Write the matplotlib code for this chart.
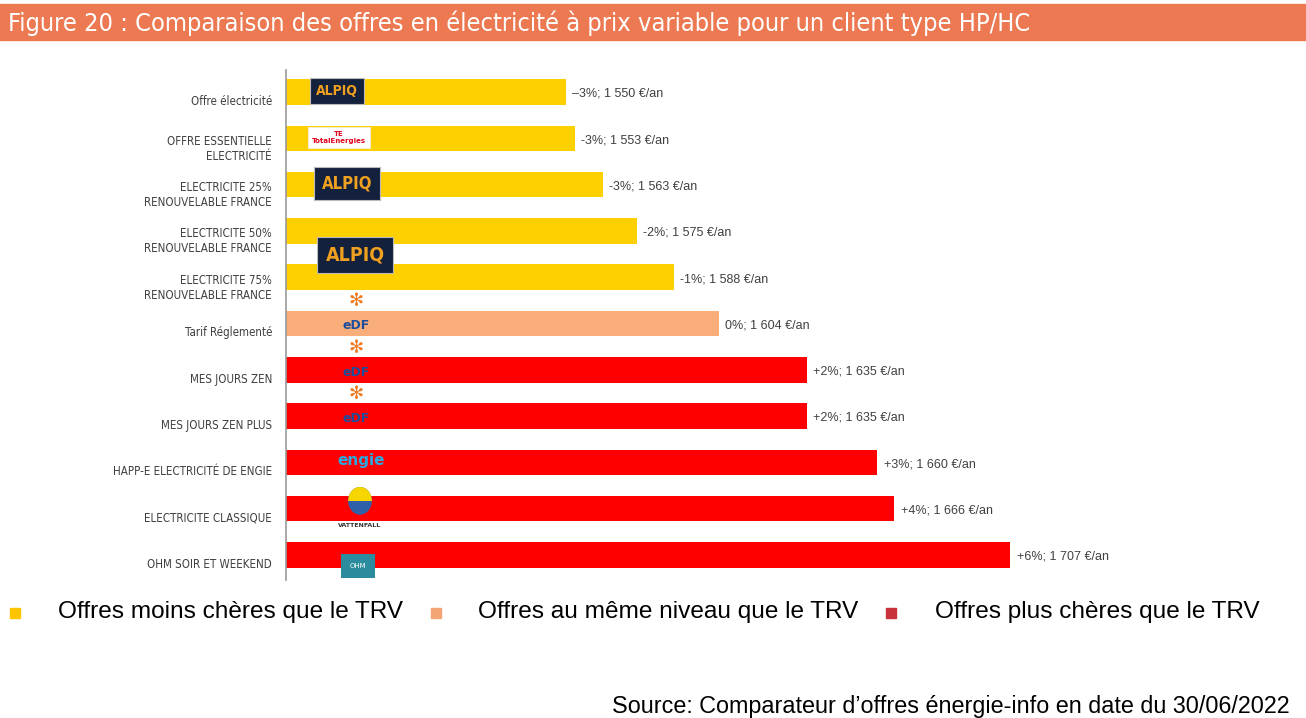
import matplotlib.pyplot as plt
from matplotlib.patches import Rectangle, Ellipse
from matplotlib.transforms import ScaledTranslation

# donnees
offres = ["Offre électricité", "OFFRE ESSENTIELLE\nELECTRICITÉ", "ELECTRICITE 25%\nRENOUVELABLE FRANCE",
          "ELECTRICITE 50%\nRENOUVELABLE FRANCE", "ELECTRICITE 75%\nRENOUVELABLE FRANCE", "Tarif Réglementé",
          "MES JOURS ZEN", "MES JOURS ZEN PLUS", "HAPP-E ELECTRICITÉ DE ENGIE", "ELECTRICITE CLASSIQUE",
          "OHM SOIR ET WEEKEND"]
prix = [1550, 1553, 1563, 1575, 1588, 1604, 1635, 1635, 1660, 1666, 1707]
ecarts = ["–3%", "-3%", "-3%", "-2%", "-1%", "0%", "+2%", "+2%", "+3%", "+4%", "+6%"]
groupes = ["moins", "moins", "moins", "moins", "moins", "meme", "plus", "plus", "plus", "plus", "plus"]
fournisseurs = ["alpiq", "total", "alpiq", "alpiq2", "", "edf", "edf", "edf", "engie", "vattenfall", "ohm"]

couleurs = {"moins": "#FFD000", "meme": "#F9AD79", "plus": "#FF0000"}
legende = ["Offres moins chères que le TRV", "Offres au même niveau que le TRV", "Offres plus chères que le TRV"]
couleurs_leg = ["#FFC400", "#F4A576", "#C8323A"]

W, H = 1306, 718
fig = plt.figure(figsize=(W / 100, H / 100), dpi=100)

# bandeau titre
fig.patches.append(Rectangle((0, 1 - 40 / H), 1, 36 / H, transform=fig.transFigure,
                             color="#EC7952", zorder=0))
fig.text(8 / W, 1 - 23 / H, "Figure 20 : Comparaison des offres en électricité à prix variable pour un client type HP/HC",
         color="white", fontsize=18.2, family="DejaVu Sans", fontstretch="condensed", va="center", ha="left")

ax = fig.add_axes([286 / W, 1 - 580 / H, (1200 - 286) / W, 510 / H])
y = list(range(len(offres)))
ax.barh(y, prix, height=0.55, left=0, color=[couleurs[g] for g in groupes], zorder=2)
ax.set_xlim(1451, 1774)
ax.set_ylim(10.54, -0.475)

for i, (p, e) in enumerate(zip(prix, ecarts)):
    ax.text(p + 2.2, i + 0.04, f"{e}; {p // 1000} {p % 1000:03d} €/an", va="center", ha="left",
            fontsize=9, color="#404040", family="Liberation Sans")

ax.set_yticks(y)
ax.set_yticklabels(offres, fontsize=8.3, color="#404040", family="DejaVu Sans", fontstretch="condensed",
                   linespacing=1.2)
ax.tick_params(axis="y", length=0, pad=10)
# les libelles sont un peu plus bas que les barres
decal = ScaledTranslation(0, -0.08, fig.dpi_scale_trans)
for lab in ax.get_yticklabels():
    lab.set_transform(lab.get_transform() + decal)
ax.set_xticks([])
for s in ["top", "right", "bottom"]:
    ax.spines[s].set_visible(False)
ax.spines["left"].set_color("#999999")
ax.spines["left"].set_linewidth(1.2)


# logos (approximation en texte)
def fx(px):
    return (px - 286) / 914


tr = ax.get_yaxis_transform()
for i, f in enumerate(fournisseurs):
    if f == "alpiq":
        xs = 337 if i == 0 else 347
        ax.text(fx(xs), i - 0.02, "ALPIQ", transform=tr, ha="center", va="center", zorder=4,
                fontsize=10 if i == 0 else 12, color="#F0A020", weight="bold", family="DejaVu Sans",
                fontstretch="condensed",
                bbox=dict(boxstyle="square,pad=0.45", fc="#14213D", ec="#BBBBBB", lw=0.8))
    elif f == "alpiq2":
        ax.text(fx(355), i + 0.52, "ALPIQ", transform=tr, ha="center", va="center", zorder=4,
                fontsize=14, color="#F0A020", weight="bold", family="DejaVu Sans",
                fontstretch="condensed",
                bbox=dict(boxstyle="square,pad=0.45", fc="#14213D", ec="#BBBBBB", lw=0.8))
    elif f == "total":
        ax.text(fx(339), i - 0.02, "TE\nTotalEnergies", transform=tr, ha="center", va="center", zorder=4,
                fontsize=5, color="#E3001B", weight="bold", linespacing=1.1,
                bbox=dict(boxstyle="square,pad=0.6", fc="white", ec="#EEEEEE", lw=0.5))
    elif f == "edf":
        ax.text(fx(356), i - 0.48, "✻", transform=tr, ha="center", va="center", zorder=4,
                fontsize=13, color="#F07A20", family="DejaVu Sans")
        ax.text(fx(356), i + 0.05, "eDF", transform=tr, ha="center", va="center", zorder=4,
                fontsize=9, color="#1A4E9C", weight="bold")
    elif f == "engie":
        ax.text(fx(361), i - 0.05, "engie", transform=tr, ha="center", va="center", zorder=4,
                fontsize=11, color="#2AA8E0", weight="bold")
    elif f == "vattenfall":
        bleu = Ellipse((fx(360), i - 0.17), 0.026, 0.6, transform=tr, fc="#3060A8", zorder=4)
        ax.add_patch(bleu)
        haut = Rectangle((fx(360) - 0.02, i - 0.6), 0.04, 0.43, transform=tr, fc="none", ec="none")
        ax.add_patch(haut)
        jaune = Ellipse((fx(360), i - 0.17), 0.026, 0.6, transform=tr, fc="#F7D500", zorder=5)
        ax.add_patch(jaune)
        jaune.set_clip_path(haut)
        ax.text(fx(360), i + 0.37, "VATTENFALL", transform=tr, ha="center", va="center", zorder=4,
                fontsize=4.5, color="#333333", weight="bold")
    elif f == "ohm":
        ax.text(fx(358), i + 0.24, "OHM", transform=tr, ha="center", va="center", zorder=4,
                fontsize=5, color="white",
                bbox=dict(boxstyle="square,pad=1.3", fc="#2A8C9C", ec="none"))

# legende
xs_carre = [10, 431, 886]
xs_texte = [58, 478, 935]
for xc, xt, lab, c in zip(xs_carre, xs_texte, legende, couleurs_leg):
    fig.patches.append(Rectangle((xc / W, 1 - 618 / H), 10 / W, 10 / H, transform=fig.transFigure, color=c))
    fig.text(xt / W, 1 - 612 / H, lab, fontsize=17.6, family="Liberation Sans", va="center", ha="left")

fig.text(1290 / W, 1 - 706 / H, "Source: Comparateur d’offres énergie-info en date du 30/06/2022",
         fontsize=16.8, family="Liberation Sans", va="center", ha="right")

fig.savefig("out.png", dpi=100)
